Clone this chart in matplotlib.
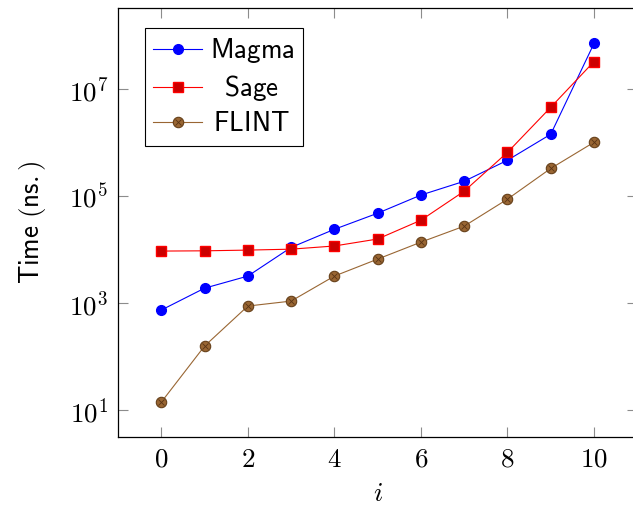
import numpy as np
import matplotlib
matplotlib.use('Agg')
import matplotlib.pyplot as plt
from matplotlib.ticker import FixedLocator, FuncFormatter, NullLocator
from matplotlib.lines import Line2D

plt.rcParams['mathtext.fontset'] = 'cm'

# data
i_vals = [0, 1, 2, 3, 4, 5, 6, 7, 8, 9, 10]
magma = [7.4e2, 1.9e3, 3.2e3, 1.1e4, 2.4e4, 4.8e4, 1.05e5, 1.9e5, 4.7e5, 1.44e6, 7.2e7]
sage = [9.4e3, 9.5e3, 9.8e3, 1.02e4, 1.17e4, 1.58e4, 3.55e4, 1.24e5, 6.6e5, 4.6e6, 3.3e7]
flint = [1.4e1, 1.57e2, 8.8e2, 1.09e3, 3.2e3, 6.65e3, 1.38e4, 2.75e4, 8.8e4, 3.3e5, 1.02e6]
y_ticks = [1e1, 1e3, 1e5, 1e7]

W, H = 633, 509
fig = plt.figure(figsize=(W/100, H/100), dpi=100)
ax = fig.add_axes([118/W, (H-437)/H, (637.3-118)/W, (437-8)/H])

brown = (0.6, 0.4, 0.2)
fs = 19.5

ax.plot(i_vals, magma, color='blue', lw=0.8, marker='o', ms=7,
        mfc='blue', mec='blue', label=r'$\mathsf{Magma}$')
ax.plot(i_vals, sage, color='red', lw=0.8, marker='s', ms=7,
        mfc=(0.8, 0, 0), mec='red', label=r'$\mathsf{\hspace{0.6}Sage}$')
ax.plot(i_vals, flint, color=brown, lw=0.8, marker='o', ms=7.5,
        mfc=brown, mec=(0.4, 0.25, 0.1), mew=0.8, label=r'$\mathsf{\hspace{0.15}FLINT}$')
ax.plot(i_vals, flint, ls='none', marker='x', ms=5, mec=(0.35, 0.2, 0.08), mew=0.6)

ax.set_yscale('log')
ax.set_xlim(-1, 11)
ax.set_ylim(10**0.495, 10**8.52)

ax.xaxis.set_major_locator(FixedLocator([0, 2, 4, 6, 8, 10]))
ax.xaxis.set_major_formatter(FuncFormatter(lambda v, p: r'$%d$' % v))
ax.yaxis.set_major_locator(FixedLocator(y_ticks))
ax.yaxis.set_minor_locator(NullLocator())
ax.yaxis.set_major_formatter(FuncFormatter(lambda v, p: r'$10^{%d}$' % round(np.log10(v))))

ax.tick_params(which='major', direction='in', length=7, width=0.8, color='0.55',
               labelsize=fs, top=True, right=True, pad=7)
for s in ax.spines.values():
    s.set_linewidth(0.9)
    s.set_color('black')

ax.set_xlabel(r'$i$', fontsize=fs, labelpad=6)
ax.set_ylabel(r'$\mathsf{Time\ (ns.)}$', fontsize=fs, labelpad=15)

handles, labels = ax.get_legend_handles_labels()
flint_h = (handles[2], Line2D([], [], ls='none', marker='x', ms=5, mec=(0.35, 0.2, 0.08), mew=0.6))
leg = ax.legend([handles[0], handles[1], flint_h], labels[:3], loc='upper left',
                bbox_to_anchor=(27/519, 1-20/429), fontsize=fs, fancybox=False,
                edgecolor='black', framealpha=1, handlelength=1.8,
                borderpad=0.3, labelspacing=0.3, handletextpad=0.3, borderaxespad=0)
leg.get_frame().set_linewidth(0.8)

fig.savefig('out.png', dpi=100)
